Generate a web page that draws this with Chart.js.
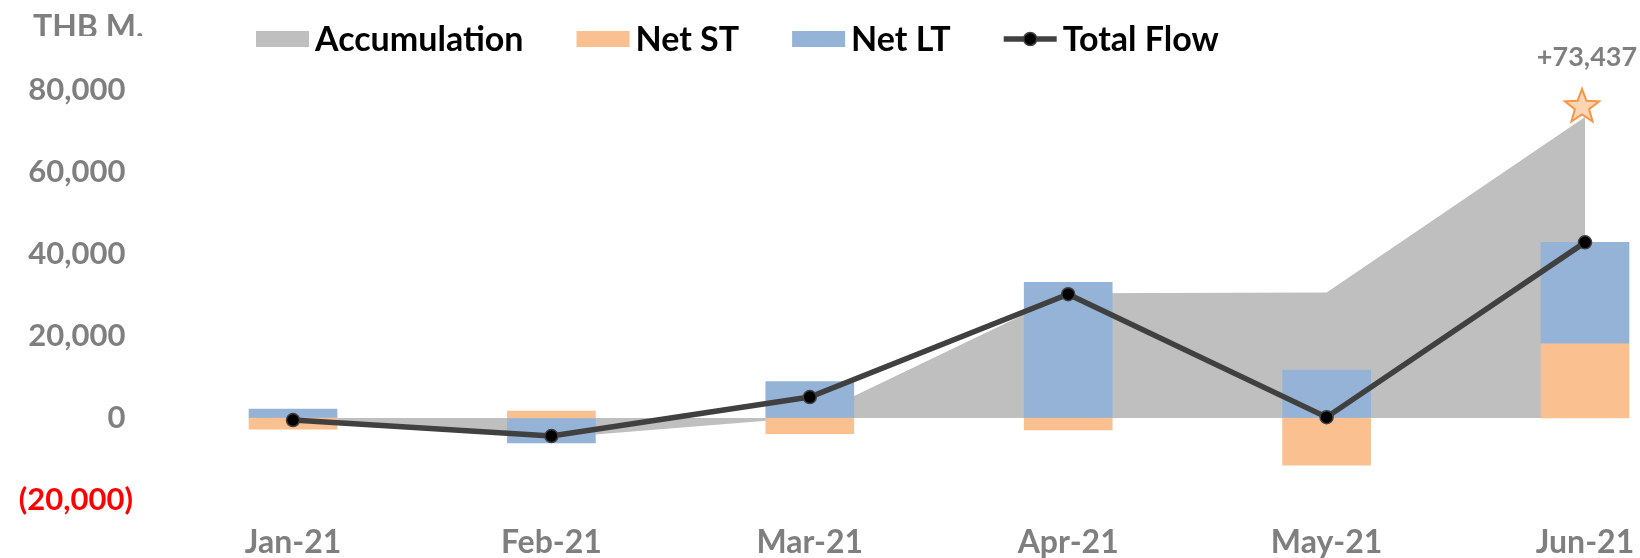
<!DOCTYPE html>
<html lang="en">
<head>
<meta charset="UTF-8">
<title>Fund Flow</title>
<script src="https://cdn.jsdelivr.net/npm/chart.js"></script>
<style>
  html, body { margin: 0; padding: 0; background: #fff; }
</style>
</head>
<body>
<canvas id="flowChart" width="1640" height="558"></canvas>
<script>
// values (THB million)
const months = ['Jan-21', 'Feb-21', 'Mar-21', 'Apr-21', 'May-21', 'Jun-21'];
const netST = [-2700, 1700, -3800, -2900, -11500, 18100];
const netLT = [2200, -6100, 8900, 33100, 11700, 24737];
const totalFlow = [-500, -4400, 5100, 30200, 200, 42837];
const accumulation = [-500, -4900, 200, 30400, 30600, 73437];
const yTicks = [-20000, 0, 20000, 40000, 60000, 80000];
const unitLabel = 'THB M.';

const GRAY_TEXT = '#7f7f7f';
const FONT = 'Lato';

function fmt(v) {
  return Math.abs(v).toLocaleString('en-US');
}

// unit label, cut off at the bottom like in the original
const unitPlugin = {
  id: 'unitLabel',
  afterDraw(chart) {
    const ctx = chart.ctx;
    ctx.save();
    ctx.beginPath();
    ctx.rect(0, 0, 200, 36);
    ctx.clip();
    ctx.font = 'bold 32px ' + FONT;
    ctx.fillStyle = GRAY_TEXT;
    ctx.textBaseline = 'alphabetic';
    ctx.fillText(unitLabel, 33, 38);
    ctx.restore();
  }
};

// legend drawn by hand so the spacing matches
const legendPlugin = {
  id: 'flowLegend',
  afterDraw(chart) {
    const ctx = chart.ctx;
    const y = 39;
    let x = 256;
    ctx.save();
    ctx.font = 'bold 34px ' + FONT;
    ctx.textBaseline = 'alphabetic';
    chart.data.datasets.forEach(ds => {
      if (ds.type === 'line' && !ds.fill) {
        ctx.strokeStyle = ds.borderColor;
        ctx.lineWidth = ds.borderWidth;
        ctx.beginPath();
        ctx.moveTo(x, y);
        ctx.lineTo(x + 53, y);
        ctx.stroke();
        ctx.beginPath();
        ctx.arc(x + 26.5, y, ds.pointRadius, 0, Math.PI * 2);
        ctx.fillStyle = ds.pointBackgroundColor;
        ctx.fill();
        ctx.lineWidth = ds.pointBorderWidth;
        ctx.strokeStyle = ds.pointBorderColor;
        ctx.stroke();
      } else {
        ctx.fillStyle = ds.backgroundColor;
        ctx.fillRect(x, y - 8, 53, 16);
      }
      ctx.fillStyle = '#000';
      ctx.fillText(ds.label, x + 59, y + 12);
      x += 59 + ctx.measureText(ds.label).width + 53;
    });
    ctx.restore();
  }
};

// star + total label on the last accumulation point
const starPlugin = {
  id: 'accStar',
  afterDatasetsDraw(chart) {
    const meta = chart.getDatasetMeta(0);
    const pt = meta.data[meta.data.length - 1];
    const ctx = chart.ctx;
    const cx = pt.x - 3, cy = pt.y - 10;
    const R = 18, r = 7.5;
    ctx.save();
    ctx.beginPath();
    for (let i = 0; i < 10; i++) {
      const rad = i % 2 === 0 ? R : r;
      const a = -Math.PI / 2 + i * Math.PI / 5;
      const px = cx + rad * Math.cos(a), py = cy + rad * Math.sin(a);
      if (i === 0) ctx.moveTo(px, py); else ctx.lineTo(px, py);
    }
    ctx.closePath();
    ctx.fillStyle = '#fcd5b4';
    ctx.fill();
    ctx.lineWidth = 2;
    ctx.strokeStyle = '#f79646';
    ctx.stroke();

    const last = accumulation[accumulation.length - 1];
    ctx.font = 'bold 27px ' + FONT;
    ctx.fillStyle = GRAY_TEXT;
    ctx.textAlign = 'center';
    ctx.textBaseline = 'middle';
    ctx.fillText('+' + fmt(last), pt.x + 2, pt.y - 60);
    ctx.restore();
  }
};

const ctx = document.getElementById('flowChart').getContext('2d');

new Chart(ctx, {
  data: {
    labels: months,
    datasets: [
      {
        type: 'line',
        label: 'Accumulation',
        data: accumulation,
        stack: 'acc',
        order: 3,
        fill: 'origin',
        backgroundColor: '#bfbfbf',
        borderWidth: 0,
        pointRadius: 0,
        tension: 0
      },
      {
        type: 'bar',
        label: 'Net ST',
        data: netST,
        stack: 'flow',
        order: 2,
        backgroundColor: '#fac090',
        borderWidth: 0,
        barThickness: 88,
        clip: false
      },
      {
        type: 'bar',
        label: 'Net LT',
        data: netLT,
        stack: 'flow',
        order: 2,
        backgroundColor: '#95b3d7',
        borderWidth: 0,
        barThickness: 88,
        clip: false
      },
      {
        type: 'line',
        label: 'Total Flow',
        data: totalFlow,
        stack: 'total',
        order: 1,
        fill: false,
        borderColor: '#404040',
        borderWidth: 5.5,
        pointRadius: 6.5,
        pointBackgroundColor: '#000000',
        pointBorderColor: '#404040',
        pointBorderWidth: 1.5,
        tension: 0,
        clip: false
      }
    ]
  },
  options: {
    responsive: false,
    animation: false,
    layout: {
      padding: { top: 90, right: 55, left: 0, bottom: 0 }
    },
    scales: {
      x: {
        offset: false,
        grid: { display: false, drawTicks: false },
        border: { display: false },
        afterFit: scale => {
          scale.height = 58;
          scale.paddingLeft = 0;
          scale.paddingRight = 0;
        },
        ticks: {
          autoSkip: false,
          maxRotation: 0,
          padding: 23,
          color: GRAY_TEXT,
          font: { family: FONT, size: 32, weight: 'bold' }
        }
      },
      y: {
        stacked: true,
        min: -20000,
        max: 80000,
        grid: { display: false, drawTicks: false },
        border: { display: false },
        afterBuildTicks: scale => {
          scale.ticks = yTicks.map(v => ({ value: v }));
        },
        afterFit: scale => {
          // wide gap between labels and plot, without the vertical padding
          scale.width = 293;
          scale.paddingTop = 0;
          scale.paddingBottom = 0;
        },
        ticks: {
          padding: 160,
          color: c => (c.tick && c.tick.value < 0 ? '#ff0000' : GRAY_TEXT),
          font: { family: FONT, size: 31, weight: 'bold' },
          callback: v => (v < 0 ? '(' + fmt(v) + ')' : fmt(v) + ' ')
        }
      }
    },
    plugins: {
      legend: { display: false },
      tooltip: { enabled: false }
    }
  },
  plugins: [unitPlugin, legendPlugin, starPlugin]
});
</script>
</body>
</html>
